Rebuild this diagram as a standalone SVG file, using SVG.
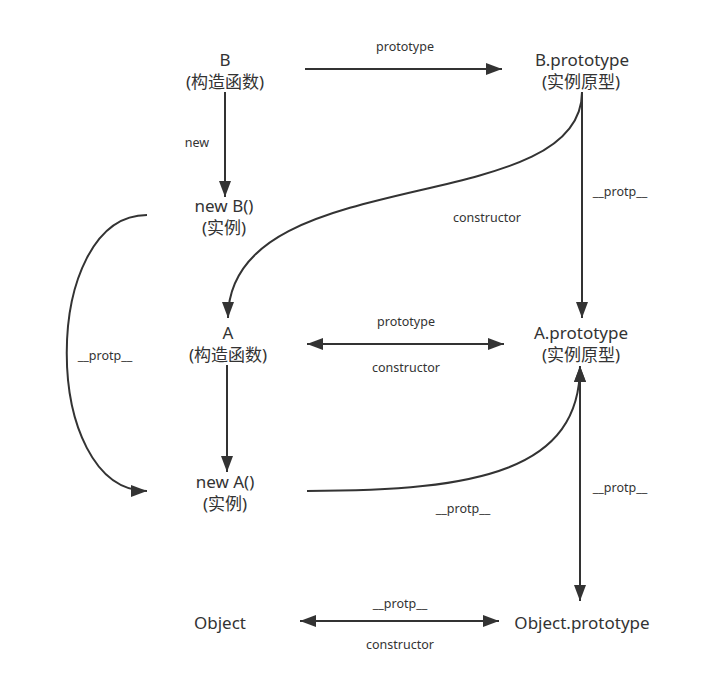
<svg xmlns="http://www.w3.org/2000/svg" width="725" height="688" viewBox="0 0 725 688">
<style>
.n{font-family:"Noto Sans","Noto Sans CJK SC",sans-serif;font-size:17px;fill:#333;text-anchor:middle}
.l{font-family:"Noto Sans","Noto Sans CJK SC",sans-serif;font-size:12.5px;fill:#333;text-anchor:middle}
.c{fill:none;stroke:#333;stroke-width:2}
</style>
<defs>
<marker id="ah" markerUnits="userSpaceOnUse" markerWidth="18" markerHeight="12" refX="16" refY="6" orient="auto-start-reverse">
<path d="M0,0 L16,6 L0,12 Z" fill="#333"/>
</marker>
</defs>
<rect width="725" height="688" fill="#fff"/>
<g id="connectors">
<line class="c" x1="305" y1="69" x2="502" y2="69" marker-end="url(#ah)"/>
<text class="l" x="405" y="51">prototype</text>
<line class="c" x1="225" y1="92" x2="225" y2="197" marker-end="url(#ah)"/>
<text class="l" x="197" y="147">new</text>
<path class="c" d="M582,92 C582,220 228,160 228,318" marker-end="url(#ah)"/>
<text class="l" x="487" y="222">constructor</text>
<line class="c" x1="582" y1="92" x2="582" y2="318" marker-end="url(#ah)"/>
<text class="l" x="620" y="196">__protp__</text>
<line class="c" x1="307" y1="344" x2="504" y2="344" marker-start="url(#ah)" marker-end="url(#ah)"/>
<text class="l" x="406" y="326">prototype</text>
<text class="l" x="406" y="372">constructor</text>
<line class="c" x1="227" y1="365" x2="227" y2="472" marker-end="url(#ah)"/>
<path class="c" d="M147,215 C40,215 40,491 147,491" marker-end="url(#ah)"/>
<text class="l" x="105" y="360">__protp__</text>
<path class="c" d="M307,491 C480,491 580,470 580,366" marker-end="url(#ah)"/>
<text class="l" x="463" y="513">__protp__</text>
<line class="c" x1="580" y1="366" x2="580" y2="601" marker-start="url(#ah)" marker-end="url(#ah)"/>
<text class="l" x="620" y="492">__protp__</text>
<line class="c" x1="300" y1="621" x2="499" y2="621" marker-start="url(#ah)" marker-end="url(#ah)"/>
<text class="l" x="400" y="608">__protp__</text>
<text class="l" x="400" y="649">constructor</text>
</g>
<g id="B"><text class="n" x="225" y="66">B</text><text class="n" x="225" y="88">(构造函数)</text></g>
<g id="Bproto"><text class="n" x="582" y="66">B.prototype</text><text class="n" x="581" y="88">(实例原型)</text></g>
<g id="newB"><text class="n" x="224" y="212">new B()</text><text class="n" x="224" y="234">(实例)</text></g>
<g id="A"><text class="n" x="228" y="339">A</text><text class="n" x="228" y="361">(构造函数)</text></g>
<g id="Aproto"><text class="n" x="581" y="339">A.prototype</text><text class="n" x="581" y="361">(实例原型)</text></g>
<g id="newA"><text class="n" x="225" y="488">new A()</text><text class="n" x="225" y="510">(实例)</text></g>
<g id="Object"><text class="n" x="220" y="629">Object</text></g>
<g id="Objproto"><text class="n" x="582" y="629">Object.prototype</text></g>
</svg>
